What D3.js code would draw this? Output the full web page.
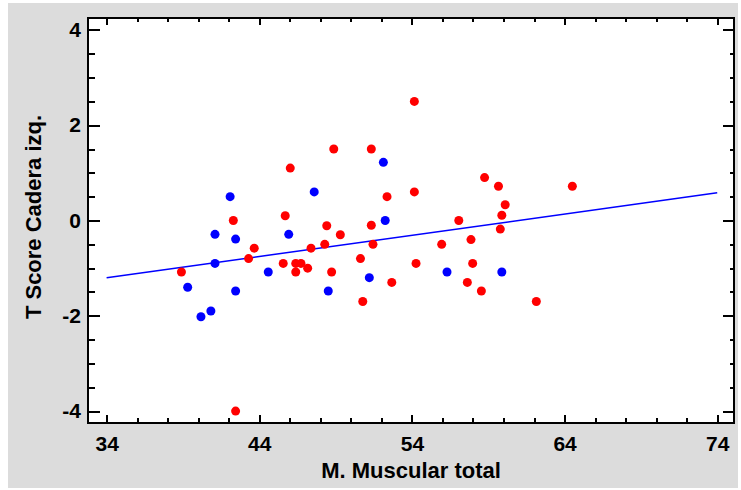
<!DOCTYPE html>
<html lang="en">

<head>
    <meta charset="UTF-8">
    <title>T Score Cadera izq. vs M. Muscular total</title>
    <script src="https://d3js.org/d3.v7.min.js"></script>
    <style>
        body {
            margin: 0;
            background: #fff;
        }

        text {
            font-family: "Liberation Sans", Arial, sans-serif;
            font-weight: bold;
            fill: #000;
        }

        .axis line {
            stroke: #000;
            stroke-width: 2;
            shape-rendering: crispEdges;
        }

        .axis .domain {
            display: none;
        }
    </style>
</head>

<body>
    <div id="chart"></div>

    <script>
        // red group: x = M. Muscular total, y = T Score Cadera izq.
        var redX = [38.9, 42.3, 42.45, 43.3, 43.67, 45.57, 45.7, 46.03, 46.39, 46.73, 46.39, 47.17,
            47.39, 48.29, 48.42, 48.74, 49.31, 48.88, 50.63, 50.78, 51.34, 51.34, 51.45, 52.37,
            52.68, 54.16, 54.16, 54.27, 55.95, 57.07, 57.63, 57.87, 57.98, 58.55, 58.76, 59.67,
            60.11, 59.89, 59.79, 62.15, 64.51];
        var redY = [-1.08, 0.0, -4.0, -0.8, -0.58, -0.9, 0.1, 1.1, -0.9, -0.9, -1.08, -1.0,
            -0.58, -0.5, -0.11, -1.08, -0.3, 1.5, -0.8, -1.7, 1.5, -0.1, -0.5, 0.5,
            -1.3, 2.5, 0.6, -0.9, -0.5, 0.0, -1.3, -0.4, -0.9, -1.48, 0.9, 0.72,
            0.33, 0.11, -0.18, -1.7, 0.72];

        // blue group
        var blueX = [39.31, 40.18, 40.83, 41.1, 41.1, 42.09, 42.45, 42.45, 44.59, 45.93, 47.6,
            48.52, 51.21, 52.13, 52.25, 56.3, 59.89];
        var blueY = [-1.4, -2.02, -1.9, -0.29, -0.9, 0.5, -0.39, -1.48, -1.08, -0.29, 0.6,
            -1.48, -1.2, 1.22, 0.0, -1.08, -1.08];

        // fitted line
        var fitX = [34, 74];
        var fitY = [-1.2, 0.58];

        var xTicks = [34, 44, 54, 64, 74];
        var yTicks = [-4, -2, 0, 2, 4];

        var W = 741, H = 490;
        var pLeft = 88, pTop = 18, pRight = 734, pBottom = 423;

        var x = d3.scaleLinear().domain([32.78, 75.1]).range([pLeft, pRight]);
        var y = d3.scaleLinear().domain([-4.25, 4.25]).range([pBottom, pTop]);

        var xMinor = d3.range(34, 75, 2).filter(function (v) { return xTicks.indexOf(v) < 0; });
        var yMinor = d3.range(-4, 4.01, 0.5).filter(function (v) { return yTicks.indexOf(v) < 0; });

        // plain hyphen for negatives, like the original
        var fmt = function (d) { return String(d); };

        var svg = d3.select("#chart").append("svg")
            .attr("width", W)
            .attr("height", H);

        // grey panel
        svg.append("rect")
            .attr("x", 8).attr("y", 3)
            .attr("width", 730).attr("height", 485)
            .attr("fill", "#dcdcdc");

        svg.append("rect")
            .attr("x", pLeft).attr("y", pTop)
            .attr("width", pRight - pLeft).attr("height", pBottom - pTop)
            .attr("fill", "#fff");

        // axes (ticks point inward)
        svg.append("g").attr("class", "axis")
            .attr("transform", "translate(0," + pBottom + ")")
            .call(d3.axisBottom(x).tickValues(xTicks).tickSize(-8).tickPadding(13).tickFormat(fmt))
            .selectAll("text").style("font-size", "21px");
        svg.append("g").attr("class", "axis")
            .attr("transform", "translate(0," + pBottom + ")")
            .call(d3.axisBottom(x).tickValues(xMinor).tickSize(-5).tickFormat(""));

        svg.append("g").attr("class", "axis")
            .attr("transform", "translate(0," + pTop + ")")
            .call(d3.axisTop(x).tickValues(xTicks).tickSize(-7).tickFormat(""));
        svg.append("g").attr("class", "axis")
            .attr("transform", "translate(0," + pTop + ")")
            .call(d3.axisTop(x).tickValues(xMinor).tickSize(-4).tickFormat(""));

        svg.append("g").attr("class", "axis")
            .attr("transform", "translate(" + pLeft + ",0)")
            .call(d3.axisLeft(y).tickValues(yTicks).tickSize(-12).tickPadding(7).tickFormat(fmt))
            .selectAll("text").style("font-size", "21px");
        svg.append("g").attr("class", "axis")
            .attr("transform", "translate(" + pLeft + ",0)")
            .call(d3.axisLeft(y).tickValues(yMinor).tickSize(-7).tickFormat(""));

        svg.append("g").attr("class", "axis")
            .attr("transform", "translate(" + pRight + ",0)")
            .call(d3.axisRight(y).tickValues(yTicks).tickSize(-11).tickFormat(""));
        svg.append("g").attr("class", "axis")
            .attr("transform", "translate(" + pRight + ",0)")
            .call(d3.axisRight(y).tickValues(yMinor).tickSize(-4).tickFormat(""));

        // regression line
        var line = d3.line()
            .x(function (d) { return x(d[0]); })
            .y(function (d) { return y(d[1]); });

        svg.append("path")
            .attr("d", line(d3.zip(fitX, fitY)))
            .attr("fill", "none")
            .attr("stroke", "#0000ff")
            .attr("stroke-width", 1.5);

        // points
        svg.append("g").selectAll("circle")
            .data(d3.zip(blueX, blueY))
            .enter().append("circle")
            .attr("cx", function (d) { return x(d[0]); })
            .attr("cy", function (d) { return y(d[1]); })
            .attr("r", 4.5)
            .attr("fill", "#0000ff");

        svg.append("g").selectAll("circle")
            .data(d3.zip(redX, redY))
            .enter().append("circle")
            .attr("cx", function (d) { return x(d[0]); })
            .attr("cy", function (d) { return y(d[1]); })
            .attr("r", 4.5)
            .attr("fill", "#ff0000");

        // frame
        svg.append("rect")
            .attr("x", pLeft).attr("y", pTop)
            .attr("width", pRight - pLeft).attr("height", pBottom - pTop)
            .attr("fill", "none")
            .attr("stroke", "#000")
            .attr("stroke-width", 2);

        // titles
        svg.append("text")
            .attr("x", (pLeft + pRight) / 2)
            .attr("y", 478)
            .attr("text-anchor", "middle")
            .style("font-size", "22px")
            .text("M. Muscular total");

        svg.append("text")
            .attr("transform", "translate(41,217) rotate(-90)")
            .attr("text-anchor", "middle")
            .style("font-size", "22px")
            .text("T Score Cadera izq.");
    </script>
</body>

</html>
